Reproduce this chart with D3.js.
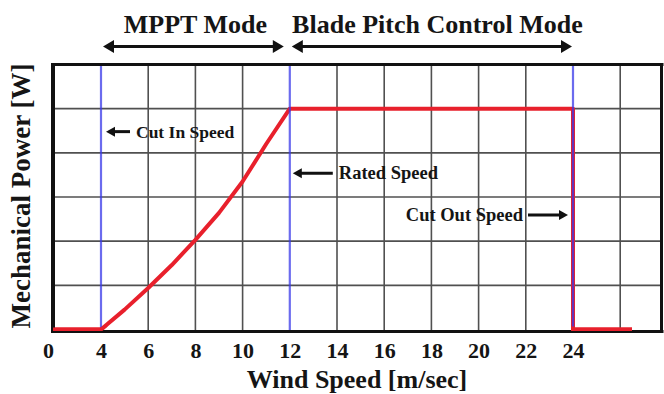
<!DOCTYPE html>
<html>
<head>
<meta charset="utf-8">
<script src="https://cdn.jsdelivr.net/npm/d3@7"></script>
<style>
  html, body { margin: 0; padding: 0; background: #fff; }
  svg { display: block; }
  text { font-family: "Liberation Serif", "Times New Roman", serif; font-weight: bold; fill: #151515; }
</style>
</head>
<body>
<svg id="chart" width="664" height="394"></svg>
<script>
// Wind turbine power curve: mechanical power vs. wind speed
const windSpeed = [0, 4, 5, 6, 7, 8, 9, 10, 11, 12, 24, 24, 26.5];
const mechPower = [0, 0, 0.45, 0.94, 1.46, 2.03, 2.64, 3.35, 4.2, 5.0, 5.0, 0, 0];

const tickLabels = [0, 4, 6, 8, 10, 12, 14, 16, 18, 20, 22, 24];
const greyGridX = [6, 8, 10, 14, 16, 18, 20, 22, 26];
const speedMarkers = [4, 12, 24];            // cut-in, rated, cut-out
const gridY = [1, 2, 3, 4, 5];

const modes = [
  { label: "MPPT Mode", from: 4, to: 12 },
  { label: "Blade Pitch Control Mode", from: 12, to: 24 }
];

const notes = [
  { text: "Cut In Speed", x: 4, y: 4.48, side: "right" },
  { text: "Rated Speed", x: 12, y: 3.54, side: "right" },
  { text: "Cut Out Speed", x: 24, y: 2.59, side: "left" }
];

const svg = d3.select("#chart");

// The axis is compressed below cut-in: 0..4 occupies one grid cell
const x = d3.scaleLinear().domain([0, 4, 27.75]).range([53, 101, 661.5]);
const y = d3.scaleLinear().domain([0, 6]).range([329.5, 64.5]);

const plotTop = y(6), plotBottom = 331.5, plotLeft = x(0), plotRight = 661.5;

// grid
const grid = svg.append("g");
grid.selectAll("line.h").data(gridY).join("line")
  .attr("x1", plotLeft).attr("x2", plotRight)
  .attr("y1", d => y(d)).attr("y2", d => y(d))
  .attr("stroke", "#505050").attr("stroke-width", 1.6);
grid.selectAll("line.v").data(greyGridX).join("line")
  .attr("x1", d => x(d)).attr("x2", d => x(d))
  .attr("y1", plotTop).attr("y2", plotBottom)
  .attr("stroke", "#505050").attr("stroke-width", 1.6);

// power curve
const line = d3.line().x(d => x(d)).y((d, i) => y(mechPower[i]));
svg.append("path")
  .attr("d", line(windSpeed))
  .attr("fill", "none")
  .attr("stroke", "#e8202c")
  .attr("stroke-width", 4)
  .attr("stroke-linejoin", "round");

// cut-in / rated / cut-out markers
svg.selectAll("line.marker").data(speedMarkers).join("line")
  .attr("x1", d => x(d)).attr("x2", d => x(d))
  .attr("y1", plotTop).attr("y2", plotBottom)
  .attr("stroke", "#3a3ae8").attr("stroke-opacity", 0.75).attr("stroke-width", 2.2);

// frame
svg.append("line").attr("x1", plotLeft - 2).attr("x2", plotRight + 2)
  .attr("y1", plotTop).attr("y2", plotTop).attr("stroke", "#111").attr("stroke-width", 3);
svg.append("line").attr("x1", plotLeft - 2).attr("x2", plotRight + 2)
  .attr("y1", plotBottom).attr("y2", plotBottom).attr("stroke", "#111").attr("stroke-width", 3);
svg.append("line").attr("x1", plotLeft).attr("x2", plotLeft)
  .attr("y1", plotTop).attr("y2", plotBottom).attr("stroke", "#111").attr("stroke-width", 4);
svg.append("line").attr("x1", plotRight).attr("x2", plotRight)
  .attr("y1", plotTop).attr("y2", plotBottom).attr("stroke", "#111").attr("stroke-width", 3);

// redraw the flat red segments on top of the bottom frame edge
svg.append("clipPath").attr("id", "lowClip").append("rect")
  .attr("x", 0).attr("y", y(0) - 3).attr("width", 664).attr("height", 4.5);
svg.append("path")
  .attr("d", line(windSpeed))
  .attr("fill", "none")
  .attr("stroke", "#e8202c")
  .attr("stroke-width", 4)
  .attr("clip-path", "url(#lowClip)");

// x axis labels
const xAxis = d3.axisBottom(x).tickValues(tickLabels).tickSize(0).tickPadding(11)
  .tickFormat(d3.format("d"));
const gx = svg.append("g").attr("transform", `translate(0,${plotBottom})`).call(xAxis);
gx.select(".domain").remove();
gx.selectAll("text")
  .attr("font-size", 22)
  .attr("font-family", "'Liberation Serif', 'Times New Roman', serif")
  .attr("font-weight", "bold")
  .attr("fill", "#151515")
  .attr("dx", d => d === 0 ? -5 : 0);

// axis titles
svg.append("text")
  .attr("x", 357).attr("y", 388)
  .attr("text-anchor", "middle")
  .attr("font-size", 26)
  .text("Wind Speed [m/sec]");

svg.append("text")
  .attr("transform", "translate(30,196) rotate(-90)")
  .attr("text-anchor", "middle")
  .attr("font-size", 27)
  .text("Mechanical Power [W]");

// arrow helper
function arrowHead(g, tipX, tipY, dir, len, half) {
  g.append("path")
    .attr("d", `M${tipX},${tipY} L${tipX - dir * len},${tipY - half} L${tipX - dir * len},${tipY + half} Z`)
    .attr("fill", "#111");
}

// mode spans above the plot
const modeArrowY = 46.5;
const modeG = svg.append("g");
modes.forEach((m, i) => {
  const x1 = x(m.from) + 2;
  const x2 = x(m.to) - (i === 0 ? 6 : 1);
  modeG.append("line")
    .attr("x1", x1 + 8).attr("x2", x2 - 8)
    .attr("y1", modeArrowY).attr("y2", modeArrowY)
    .attr("stroke", "#111").attr("stroke-width", 3);
  arrowHead(modeG, x1, modeArrowY, -1, 11, 6.5);
  arrowHead(modeG, x2, modeArrowY, 1, 11, 6.5);
  modeG.append("text")
    .attr("x", (x(m.from) + x(m.to)) / 2 + (i === 0 ? 0 : 6))
    .attr("y", 33)
    .attr("text-anchor", "middle")
    .attr("font-size", 26)
    .text(m.label);
});

// speed annotations
const noteG = svg.append("g");
notes.forEach(n => {
  const py = y(n.y);
  if (n.side === "right") {
    const tip = x(n.x) + (n.x === 4 ? 5 : 3);
    const tail = tip + (n.x === 4 ? 24 : 40);
    noteG.append("line").attr("x1", tip + 6).attr("x2", tail)
      .attr("y1", py).attr("y2", py).attr("stroke", "#111").attr("stroke-width", 3);
    arrowHead(noteG, tip, py, -1, 9, 5);
    noteG.append("text").attr("x", tail + 6).attr("y", py + 6)
      .attr("font-size", n.x === 4 ? 17.5 : 18.5).text(n.text);
  } else {
    const tip = x(n.x) - 5;
    const tail = tip - 40;
    noteG.append("line").attr("x1", tail).attr("x2", tip - 6)
      .attr("y1", py).attr("y2", py).attr("stroke", "#111").attr("stroke-width", 3);
    arrowHead(noteG, tip, py, 1, 9, 5);
    noteG.append("text").attr("x", tail - 5).attr("y", py + 6)
      .attr("text-anchor", "end")
      .attr("font-size", 18.5).text(n.text);
  }
});
</script>
</body>
</html>
